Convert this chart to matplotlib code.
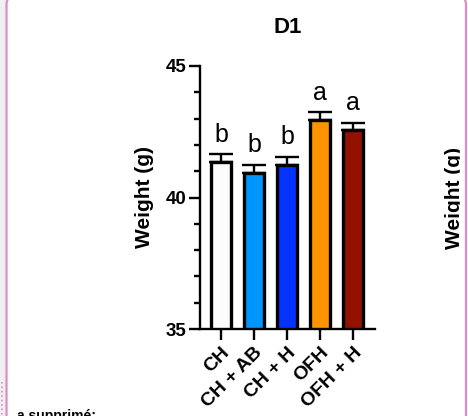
import numpy as np
import matplotlib
matplotlib.use("Agg")
import matplotlib.pyplot as plt
from matplotlib.patches import FancyBboxPatch, Rectangle
from matplotlib.ticker import MultipleLocator

plt.rcParams['font.family'] = ['Liberation Sans', 'DejaVu Sans']

groups = ['CH', 'CH + AB', 'CH + H', 'OFH', 'OFH + H']
means = [41.35, 40.95, 41.25, 42.95, 42.55]
sems = [0.30, 0.29, 0.30, 0.30, 0.29]
letters = ['b', 'b', 'b', 'a', 'a']
colors = ['#FCFCFC', '#0096FF', '#0433FF', '#FF9300', '#941100']

W, H = 468, 416
fig = plt.figure(figsize=(W / 100, H / 100), dpi=100)

# page background, in pixel units
bg = fig.add_axes([0, 0, 1, 1], zorder=0)
bg.set_xlim(0, W)
bg.set_ylim(H, 0)
bg.axis('off')
bg.add_patch(Rectangle((0, 0), 6, H, color='#F0F0F0', zorder=0))
bg.plot([1.5, 1.5], [382, H], color='#E08CC8', lw=1.2, ls=':', zorder=1)
bg.text(455, 198, 'Weight (g)', rotation=90, ha='center', va='center',
        fontsize=15, fontweight='bold', zorder=2)
bg.add_patch(Rectangle((460, 0), 10, H, color='white', zorder=3))
bg.add_patch(FancyBboxPatch((6.5, -6), 459.5, 440, boxstyle='round,pad=0,rounding_size=11',
                            fc='none', ec='#E08CC8', lw=1.6, zorder=4))
bg.text(17, 420, 'a supprimé:', fontsize=10, fontweight='bold', va='baseline', zorder=5)

# main chart
ax = fig.add_axes([200 / W, 87 / H, 175 / W, 263 / H], zorder=2)
x = np.arange(len(groups))
ax.bar(x, means, width=0.6, color=colors, edgecolor='black', linewidth=2.4, zorder=2)
ax.errorbar(x, means, yerr=[np.zeros(len(sems)), sems], fmt='none', ecolor='black',
            elinewidth=1.7, capsize=8.5, capthick=1.7, zorder=1)
for xi, m, s, lab in zip(x, means, sems, letters):
    ax.annotate(lab, (xi, m + s), xytext=(0, 9), textcoords='offset points',
                ha='center', va='baseline', fontsize=18)

ax.set_xlim(-0.64, 4.67)
ax.set_ylim(35, 45)
ax.set_yticks([35, 40, 45])
ax.yaxis.set_minor_locator(MultipleLocator(1))
ax.set_xticks(x)
ax.set_xticklabels(groups, rotation=45, ha='right', rotation_mode='anchor',
                   fontsize=14, fontweight='bold')
for t in ax.get_yticklabels():
    t.set_fontweight('bold')
    t.set_fontsize(13.5)
ax.tick_params(axis='y', which='major', length=8, width=1.7, pad=2)
ax.tick_params(axis='y', which='minor', length=4, width=1.7)
ax.tick_params(axis='x', which='major', length=8, width=1.7, pad=3)
for side in ['top', 'right']:
    ax.spines[side].set_visible(False)
for side in ['left', 'bottom']:
    ax.spines[side].set_linewidth(1.7)
ax.set_ylabel('Weight (g)', fontsize=15, fontweight='bold', labelpad=8)
ax.set_title('D1', fontsize=16, fontweight='bold', pad=24)

fig.savefig('out.png', dpi=100)
